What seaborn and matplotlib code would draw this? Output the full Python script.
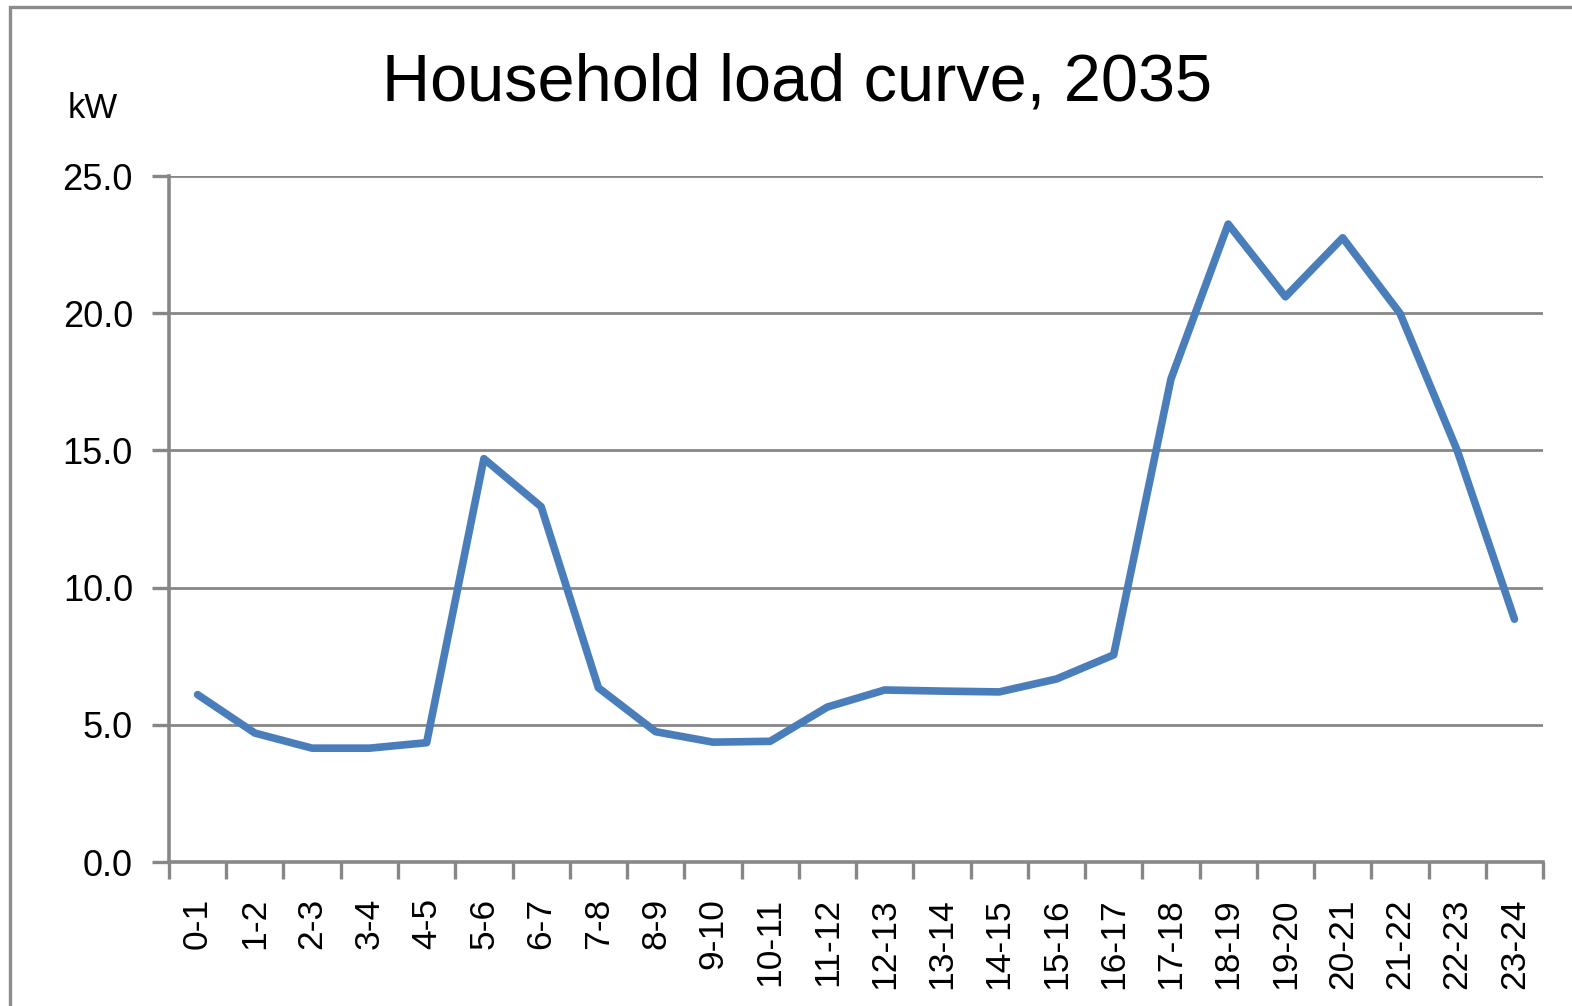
import numpy as np
import pandas as pd
import seaborn as sns
import matplotlib.pyplot as plt
from matplotlib.patches import Rectangle

hours = ['0-1', '1-2', '2-3', '3-4', '4-5', '5-6', '6-7', '7-8', '8-9', '9-10',
         '10-11', '11-12', '12-13', '13-14', '14-15', '15-16', '16-17', '17-18',
         '18-19', '19-20', '20-21', '21-22', '22-23', '23-24']
load_kw = [6.1, 4.7, 4.15, 4.15, 4.35, 14.7, 12.95, 6.35, 4.75, 4.37,
           4.4, 5.65, 6.27, 6.23, 6.2, 6.67, 7.55, 17.6, 23.25, 20.6,
           22.75, 20.0, 15.0, 8.85]

df = pd.DataFrame({'hour': hours, 'kW': load_kw})

sns.set_style('white')
plt.rcParams['font.family'] = ['Liberation Sans', 'DejaVu Sans']
plt.rcParams['text.color'] = 'black'
plt.rcParams['xtick.color'] = 'black'
plt.rcParams['ytick.color'] = 'black'

grey = '#878787'
fig = plt.figure(figsize=(15.72, 10.06), dpi=100)
ax = fig.add_axes([0.1075, 0.1431, 0.8741, 0.6819])

sns.lineplot(data=df, x='hour', y='kW', ax=ax, color='#4a7ebb', linewidth=5.5,
             sort=False, solid_capstyle='round', solid_joinstyle='round')

ax.set_xlim(-0.5, 23.5)
ax.set_ylim(0, 25)
ax.set_yticks(np.arange(0, 26, 5))
ax.set_yticklabels([f'{v:.1f}' for v in np.arange(0, 26, 5)])
ax.set_xticks(range(len(hours)))
ax.set_xticklabels(hours, rotation=90)
ax.set_xticks(np.arange(-0.5, 24, 1), minor=True)
ax.tick_params(bottom=True, left=True, which='both')
ax.tick_params(axis='x', which='major', length=0, labelsize=25.5, pad=26, labelcolor='black')
ax.tick_params(axis='x', which='minor', length=12, width=2.4, color=grey, direction='out')
ax.tick_params(axis='y', length=12, width=2.4, color=grey, direction='out',
               labelsize=26, pad=14, labelcolor='black')
ax.set_xlabel('')
ax.set_ylabel('')
ax.grid(axis='y', color=grey, linewidth=2)
ax.set_axisbelow(True)
for s in ['top', 'right']:
    ax.spines[s].set_visible(False)
for s in ['left', 'bottom']:
    ax.spines[s].set_color(grey)
    ax.spines[s].set_linewidth(2.6)

fig.text(0.507, 0.917, 'Household load curve, 2035', ha='center', va='center',
         fontsize=48, color='black')
fig.text(0.059, 0.892, 'kW', ha='center', va='center', fontsize=25, color='black')

# outer chart frame (cut at right and bottom)
fig.patches.append(Rectangle((10 / 1572, -0.1), 1.2, 1.1 - 7 / 1006, transform=fig.transFigure,
                             fill=False, edgecolor='#8c8c8c', linewidth=2.4))

fig.savefig('out.png', dpi=100)
